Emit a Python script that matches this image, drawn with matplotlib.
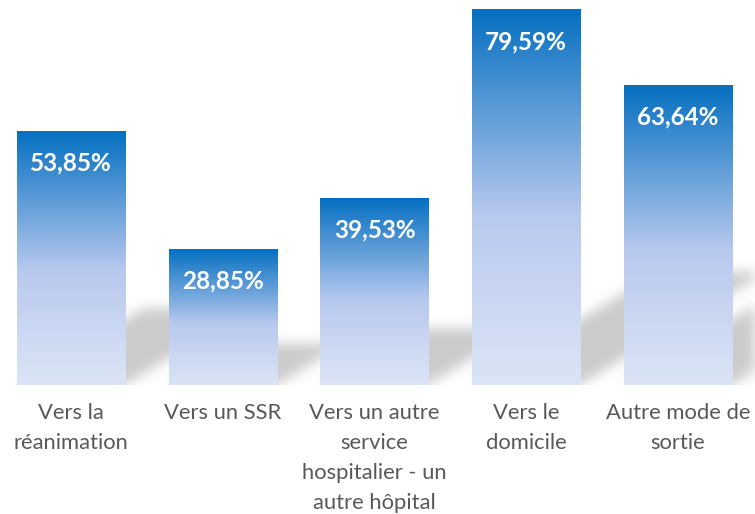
import numpy as np
import matplotlib.pyplot as plt
from matplotlib.colors import LinearSegmentedColormap
from matplotlib.path import Path

plt.rcParams['font.family'] = ['Lato', 'DejaVu Sans']

# data
categories = ['Vers la\nréanimation', 'Vers un SSR',
              'Vers un autre\nservice\nhospitalier - un\nautre hôpital',
              'Vers le\ndomicile', 'Autre mode de\nsortie']
values = [53.85, 28.85, 39.53, 79.59, 63.64]
labels = ['53,85%', '28,85%', '39,53%', '79,59%', '63,64%']

width = 0.714
x = np.arange(len(values))

fig = plt.figure(figsize=(7.55, 5.14), dpi=100)
ax = fig.add_axes([0, 0.251, 1, 0.7335])
ax.set_xlim(-0.468, 4.507)
ax.set_ylim(0, 80)
for s in ax.spines.values():
    s.set_visible(False)
ax.set_yticks([])

# soft perspective shadow behind each bar
nx, ny = 760, 380
gx = np.linspace(-0.468, 4.507, nx)
gy = np.linspace(0, 80, ny)
GX, GY = np.meshgrid(gx, gy)
pts = np.column_stack([GX.ravel(), GY.ravel()])
mask = np.zeros(GX.size)
for xi, v in zip(x, values):
    x0, x1 = xi - width / 2, xi + width / 2
    dx, dy = 0.0155 * v, 0.3 * v
    poly = Path([(x0, 0), (x1, 0), (x1 + dx, dy), (x0 + dx, dy), (x0, 0)])
    mask = np.maximum(mask, poly.contains_points(pts))
mask = mask.reshape(ny, nx)

def blur(a, sigma, axis):
    r = int(3 * sigma)
    k = np.exp(-0.5 * (np.arange(-r, r + 1) / sigma) ** 2)
    k /= k.sum()
    return np.apply_along_axis(lambda m: np.convolve(m, k, mode='same'), axis, a)

mask = blur(blur(mask, 6, 0), 6, 1)
shadow = np.zeros((ny, nx, 4))
shadow[..., :3] = 0.5
shadow[..., 3] = mask * 0.4
ax.imshow(shadow, extent=(gx[0], gx[-1], 0, 80), origin='lower',
          aspect='auto', zorder=1, interpolation='bilinear')

# gradient filled bars
cmap = LinearSegmentedColormap.from_list(
    'bar', [(0, '#dce5f6'), (0.45, '#b8c9ee'), (1, '#0570c1')])
grad = np.linspace(0, 1, 256).reshape(-1, 1)
for xi, v, lab in zip(x, values, labels):
    ax.imshow(grad, cmap=cmap, origin='lower', aspect='auto',
              extent=(xi - width / 2, xi + width / 2, 0, v), zorder=2)
    ax.text(xi, v - 6.7, lab, ha='center', va='center', color='white',
            fontsize=17.5, fontweight='bold', zorder=3)

ax.set_xlim(-0.468, 4.507)
ax.set_ylim(0, 80)
ax.set_xticks(x)
ax.set_xticklabels(categories, color='#595959', fontsize=15.8, linespacing=1.62)
ax.tick_params(axis='x', length=0, pad=13)

fig.savefig('out.png', dpi=100)
